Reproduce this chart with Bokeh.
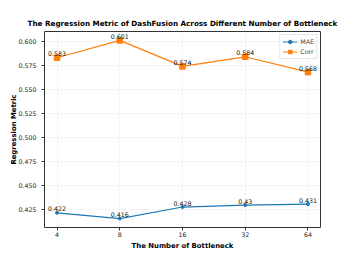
from bokeh.plotting import figure
from bokeh.models import ColumnDataSource, FixedTicker, Range1d, Legend, LegendItem
from bokeh.core.properties import value
from bokeh.embed import file_html
from bokeh.resources import INLINE

bottlenecks = ["4", "8", "16", "32", "64"]
mae = [0.422, 0.416, 0.428, 0.43, 0.431]
corr = [0.583, 0.601, 0.574, 0.584, 0.568]
mae_labels = ["0.422", "0.416", "0.428", "0.43", "0.431"]
corr_labels = ["0.583", "0.601", "0.574", "0.584", "0.568"]
y_ticks = [0.425, 0.45, 0.475, 0.5, 0.525, 0.55, 0.575, 0.6]

xs = list(range(len(bottlenecks)))
FONT = "DejaVu Sans"
BLUE = "#1f77b4"
ORANGE = "#ff7f0e"

p = figure(frame_width=276, frame_height=196, output_backend="svg", toolbar_location=None,
           x_range=Range1d(-0.2, 4.2), y_range=Range1d(0.40675, 0.61025),
           min_border_left=44, min_border_right=29, min_border_top=31, min_border_bottom=23)

p.title.text = "The Regression Metric of DashFusion Across Different Number of Bottleneck"
p.title.text_font = FONT
p.title.text_font_size = "7.2px"
p.title.text_font_style = "bold"
p.title.align = "center"
p.title.text_color = "#000000"
p.title.standoff = 8

p.outline_line_color = "#333333"
p.outline_line_width = 1

for ax in (p.xaxis[0], p.yaxis[0]):
    ax.axis_line_color = None
    ax.major_tick_out = 3
    ax.major_tick_in = 0
    ax.minor_tick_line_color = None
    ax.major_tick_line_color = "#333333"
    ax.major_label_text_font = FONT
    ax.major_label_text_font_size = "6.3px"
    ax.major_label_text_color = "#222222"
    ax.axis_label_text_font = FONT
    ax.axis_label_text_font_size = "6.9px"
    ax.axis_label_text_font_style = "bold"
    ax.axis_label_text_color = "#000000"

p.xaxis[0].major_label_standoff = 1
p.xaxis[0].axis_label_standoff = 2
p.yaxis[0].major_label_standoff = 5
p.yaxis[0].axis_label_standoff = -3

p.xaxis[0].ticker = FixedTicker(ticks=xs)
p.xaxis[0].major_label_overrides = {i: b for i, b in zip(xs, bottlenecks)}
p.xaxis[0].axis_label = "The Number of Bottleneck"
p.yaxis[0].ticker = FixedTicker(ticks=y_ticks)
p.yaxis[0].major_label_overrides = {t: f"{t:.3f}" for t in y_ticks}
p.yaxis[0].axis_label = "Regression Metric"

p.xgrid.ticker = FixedTicker(ticks=xs)
p.ygrid.ticker = FixedTicker(ticks=y_ticks)
for g in (p.xgrid[0], p.ygrid[0]):
    g.grid_line_color = "#cccccc"
    g.grid_line_dash = "2 2"
    g.grid_line_alpha = 0.7
    g.grid_line_width = 0.6

src = ColumnDataSource(dict(x=xs, mae=mae, corr=corr, ml=mae_labels, cl=corr_labels))

l1 = p.line("x", "mae", source=src, color=BLUE, line_width=1.2)
m1 = p.scatter("x", "mae", source=src, marker="circle", size=3, color=BLUE)
l2 = p.line("x", "corr", source=src, color=ORANGE, line_width=1.2)
m2 = p.scatter("x", "corr", source=src, marker="square", size=5.5, color=ORANGE)

p.text("x", "mae", text="ml", source=src, text_align="center", text_baseline="bottom",
       y_offset=-1.5, text_font=value(FONT), text_font_size="6.3px", text_color="#111111")
p.text("x", "corr", text="cl", source=src, text_align="center", text_baseline="bottom",
       y_offset=-1.5, text_font=value(FONT), text_font_size="6.3px", text_color="#111111")

legend = Legend(items=[LegendItem(label="MAE", renderers=[l1, m1]),
                       LegendItem(label="Corr", renderers=[l2, m2])],
                location="top_right")
legend.label_text_font = FONT
legend.label_text_font_size = "6.3px"
legend.glyph_width = 15
legend.glyph_height = 9
legend.spacing = 1
legend.padding = 2
legend.margin = 3
legend.label_standoff = 3
legend.label_height = 9
legend.label_width = 10
legend.border_line_color = "#cccccc"
legend.border_line_width = 0.8
legend.background_fill_alpha = 0.9
p.add_layout(legend)

open("out.html", "w").write(file_html(p, INLINE))
